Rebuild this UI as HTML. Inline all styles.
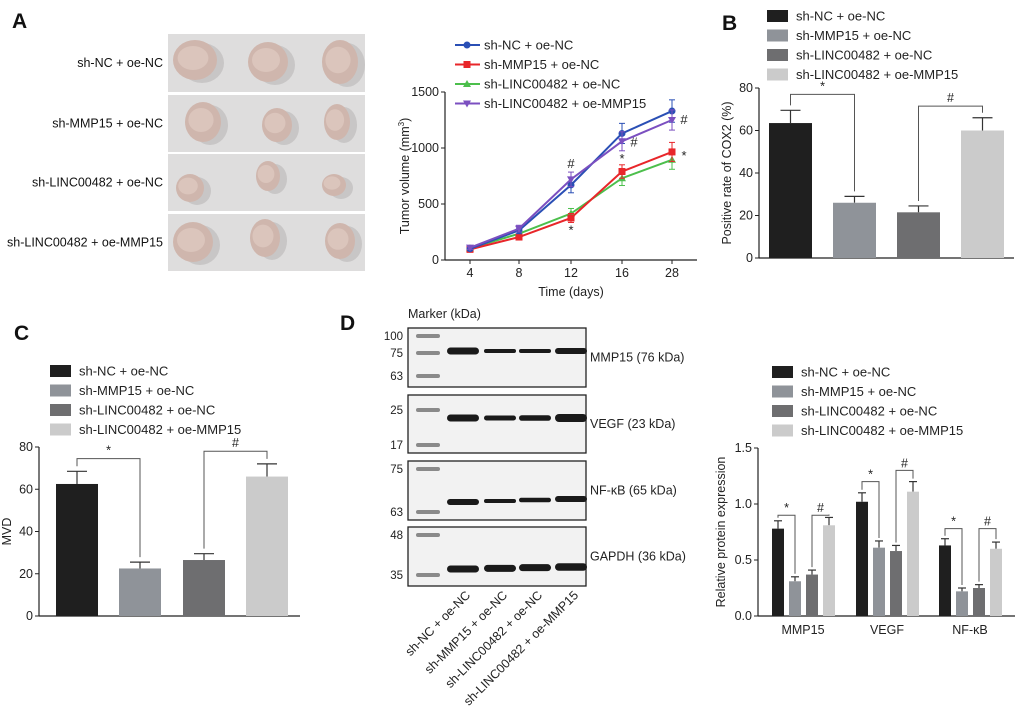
<!DOCTYPE html>
<html><head><meta charset="utf-8"><style>
body{margin:0;background:#fff}
svg{display:block;font-family:"Liberation Sans",sans-serif}
</style></head><body>
<svg id="fig" width="1020" height="714" viewBox="0 0 1020 714" xmlns="http://www.w3.org/2000/svg">
<g id="pa"></g>
<g id="pb"></g>
<g id="pc"></g>
<g id="pd"></g>
<g id="pl"></g>
<g id="pe"></g>
</svg>
<script>
const groups = ["sh-NC + oe-NC","sh-MMP15 + oe-NC","sh-LINC00482 + oe-NC","sh-LINC00482 + oe-MMP15"];
const barColors = ["#1f1f1f","#8f9399","#6e6e70","#cbcbcb"];
// Line chart data
const days = ["4","8","12","16","28"];
const volNC = [100,265,670,1130,1330];
const volMMP = [95,205,375,790,965];
const volLINC = [105,235,415,730,895];
const volLM = [110,280,720,1060,1250];
const volErr = [[15,30,70,90,100],[15,25,40,60,85],[15,25,45,65,85],[15,30,65,85,90]];
const volTicks = [0,500,1000,1500];
// Panel B
const cox2 = [63.5,26,21.5,60];
const cox2Err = [6,3,3,6];
// Panel C
const mvd = [62.5,22.5,26.5,66];
const mvdErr = [6,3,3,6];
const pctTicks = [0,20,40,60,80];
// Protein expression
const proteins = ["MMP15","VEGF","NF-κB"];
const expNC = [0.78,1.02,0.63];
const expMMP = [0.31,0.61,0.22];
const expLINC = [0.37,0.58,0.25];
const expLM = [0.81,1.11,0.60];
const expErr = [[0.07,0.08,0.06],[0.04,0.06,0.03],[0.04,0.05,0.03],[0.07,0.09,0.06]];
const expTicks = [0,0.5,1.0,1.5];

const NS="http://www.w3.org/2000/svg";
const FS=12.5;
function mk(parent,tag,attrs,text){const e=document.createElementNS(NS,tag);for(const k in attrs)e.setAttribute(k,attrs[k]);if(text!==undefined)e.textContent=text;parent.appendChild(e);return e;}
function line(p,x1,y1,x2,y2,c,w){return mk(p,'line',{x1,y1,x2,y2,stroke:c||'#222','stroke-width':w||1});}

[["A",12,28,"pa"],["B",722,30,"pb"],["C",14,340,"pc"],["D",340,330,"pd"]].forEach(l=>{
  const t=mk(document.getElementById(l[3]),'text',{x:l[1],y:l[2],'font-size':21,'font-weight':'bold',fill:'#111'},l[0]);
  
  
});

// Panel A photos
(function(){
  const g=document.getElementById('pa');
  const rows=[[34,92],[95,152],[154,211],[214,271]];
  const blobs=[[[195,60,22,20],[268,62,20,20],[340,62,18,22]],[[203,122,18,20],[277,125,15,17],[337,122,13,18]],[[190,188,14,14],[268,176,12,15],[334,185,12,11]],[[193,242,20,20],[265,238,15,19],[340,241,15,18]]];
  rows.forEach((r,i)=>{
    const bg=mk(g,'rect',{x:168,y:r[0],width:197,height:r[1]-r[0],fill:'#dedddd'});
    
    
    blobs[i].forEach(b=>{
      mk(g,'ellipse',{cx:b[0]+7,cy:b[1]+3,rx:b[2],ry:b[3],fill:'#c8c6c6'});
      mk(g,'ellipse',{cx:b[0],cy:b[1],rx:b[2],ry:b[3],fill:'#cfb6ad'});
      mk(g,'ellipse',{cx:b[0]-2,cy:b[1]-2,rx:b[2]*0.7,ry:b[3]*0.6,fill:'#dbc5bc'});
    });
    const t=mk(g,'text',{x:163,y:(r[0]+r[1])/2+4,'font-size':FS,'text-anchor':'end',fill:'#111'},groups[i]);
    
    
  });
})();

function errBar(g,x,y1,y2,c,hw){line(g,x,y1,x,y2,c,1.2);line(g,x-hw,y2,x+hw,y2,c,1.2);}

function barChart(gid,vals,errs,x0,y0,yTop,maxV,xEnd,barX,bw,ticks,ylabel,brackets,legX,legY){
  const g=document.getElementById(gid);
  const sy=v=>y0-(v/maxV)*(y0-yTop);
  line(g,x0,yTop,x0,y0+0.5,'#222',1.2);
  line(g,x0,y0,xEnd,y0,'#222',1.2);
  ticks.forEach(t=>{line(g,x0-4,sy(t),x0,sy(t));
    const tt=mk(g,'text',{x:x0-6,y:sy(t)+4,'font-size':FS,'text-anchor':'end',fill:'#222'},String(t));
    
    });
  const yl=mk(g,'text',{x:0,y:0,'font-size':FS,'text-anchor':'middle',fill:'#222',transform:`translate(${x0-28},${(y0+yTop)/2}) rotate(-90)`},ylabel);
  
  
  const tops=[];
  vals.forEach((v,i)=>{
    const bx=barX[i];
    const ey=sy(v+errs[i]);tops.push(ey);
    errBar(g,bx+bw/2,sy(v),ey,'#333',10);
    const r=mk(g,'rect',{x:bx,y:sy(v),width:bw,height:y0-sy(v),fill:barColors[i]});
    
    
  });
  brackets.forEach(b=>{
    const [a,c,v,sym]=b;const yb=sy(v);
    const xa=barX[a]+bw/2,xc=barX[c]+bw/2;
    mk(g,'polyline',{points:`${xa},${tops[a]-5} ${xa},${yb} ${xc},${yb} ${xc},${tops[c]-5}`,fill:'none',stroke:'#555','stroke-width':1});
    const s=mk(g,'text',{x:(xa+xc)/2,y:yb-4,'font-size':FS,'text-anchor':'middle',fill:'#222'},sym);
    
    
  });
  legend(g,legX,legY);
}
function legend(g,x,y){
  groups.forEach((n,i)=>{
    const r=mk(g,'rect',{x:x,y:y+i*19.5-6,width:21,height:12,fill:barColors[i]});
    
    
    const t=mk(g,'text',{x:x+29,y:y+i*19.5+4.5,'font-size':13,fill:'#222'},n);
    
    
  });
}
barChart('pb',cox2,cox2Err,759,258,88,80,1014,[769,833,897,961],43,pctTicks,'Positive rate of COX2 (%)',[[0,1,77,'*'],[2,3,71.5,'#']],767,16);
barChart('pc',mvd,mvdErr,39,616,447,80,300,[56,119,183,246],42,pctTicks,'MVD',[[0,1,74.5,'*'],[2,3,78,'#']],50,371);

// Line chart
(function(){
  const g=document.getElementById('pl');
  const x0=445,y0=260,yTop=92,maxV=1500;
  const xs=[470,519,571,622,672];
  const sx=i=>xs[i];
  const sy=v=>y0-(v/maxV)*(y0-yTop);
  line(g,x0,yTop,x0,y0+0.5,'#222',1.2);line(g,x0,y0,697,y0,'#222',1.2);
  volTicks.forEach(t=>{line(g,x0-4,sy(t),x0,sy(t));
    const tt=mk(g,'text',{x:x0-6,y:sy(t)+4,'font-size':FS,'text-anchor':'end',fill:'#222'},String(t));
    
    });
  days.forEach((d,i)=>{line(g,sx(i),y0,sx(i),y0+4);
    const tt=mk(g,'text',{x:sx(i),y:y0+17,'font-size':FS,'text-anchor':'middle',fill:'#222'},d);
    
    });
  const xt=mk(g,'text',{x:571,y:296,'font-size':FS,'text-anchor':'middle',fill:'#222'},'Time (days)');
  
  
  const yt=mk(g,'text',{x:0,y:0,'font-size':FS,'text-anchor':'middle',fill:'#222',transform:`translate(${x0-36},${(y0+yTop)/2}) rotate(-90)`});
  yt.innerHTML='Tumor volume (mm<tspan font-size="8" dy="-5">3</tspan><tspan dy="5">)</tspan>';
  
  
  const series=[volNC,volMMP,volLINC,volLM];
  const cols=['#2a4fb5','#e8262a','#4cbf4c','#7b4fc0'];
  const shapes=['c','s','t','v'];
  const order=[2,1,0,3];
  order.forEach(si=>{
    const d=series[si];
    d.forEach((v,i)=>{const e=volErr[si][i];
      line(g,sx(i),sy(v-e),sx(i),sy(v+e),cols[si],1);
      line(g,sx(i)-3,sy(v-e),sx(i)+3,sy(v-e),cols[si],1);
      line(g,sx(i)-3,sy(v+e),sx(i)+3,sy(v+e),cols[si],1);});
    const pl=mk(g,'polyline',{points:d.map((v,i)=>sx(i)+','+sy(v)).join(' '),fill:'none',stroke:cols[si],'stroke-width':2});
    
    
    d.forEach((v,i)=>marker(g,sx(i),sy(v),shapes[si],cols[si]));
  });
  [[571,sy(volLM[2]+65)-4,'#'],[571,sy(volMMP[2]-40)+12,'*'],[622,sy(volMMP[3]+60)-2,'*'],[634,sy(volLM[3])+5,'#'],[684,sy(volLM[4])+4,'#'],[684,sy(volMMP[4])+8,'*']].forEach(s=>{
    const t=mk(g,'text',{x:s[0],y:s[1],'font-size':13,'text-anchor':'middle',fill:'#222'},s[2]);
    
    });
  groups.forEach((n,i)=>{const y=45+i*19.5;
    line(g,455,y,480,y,cols[i],2);marker(g,467,y,shapes[i],cols[i]);
    const t=mk(g,'text',{x:484,y:y+4.5,'font-size':13,fill:'#222'},n);
    
    });
})();
function marker(g,x,y,s,c){
  if(s==='c')mk(g,'circle',{cx:x,cy:y,r:3.5,fill:c});
  else if(s==='s')mk(g,'rect',{x:x-3.5,y:y-3.5,width:7,height:7,fill:c});
  else if(s==='t')mk(g,'polygon',{points:`${x},${y-4} ${x-4},${y+3} ${x+4},${y+3}`,fill:c});
  else mk(g,'polygon',{points:`${x},${y+4} ${x-4},${y-3} ${x+4},${y-3}`,fill:c});
}

// Grouped bar chart
(function(){
  const g=document.getElementById('pe');
  const x0=758,y0=616,yTop=448,maxV=1.5;
  const sy=v=>y0-(v/maxV)*(y0-yTop);
  const centers=[803,887,970];
  const offs=[-25,-8,9,26];const bw=12;
  line(g,x0,yTop,x0,y0+0.5,'#222',1.2);line(g,x0,y0,1015,y0,'#222',1.2);
  expTicks.forEach(t=>{line(g,x0-4,sy(t),x0,sy(t));
    const tt=mk(g,'text',{x:x0-6,y:sy(t)+4,'font-size':FS,'text-anchor':'end',fill:'#222'},t.toFixed(1));
    
    });
  const yl=mk(g,'text',{x:0,y:0,'font-size':FS,'text-anchor':'middle',fill:'#222',transform:`translate(${x0-33},${(y0+yTop)/2}) rotate(-90)`},'Relative protein expression');
  
  
  const series=[expNC,expMMP,expLINC,expLM];
  const bracketVals=[[0.9,0.9],[1.2,1.3],[0.78,0.78]];
  proteins.forEach((p,j)=>{
    const tt=mk(g,'text',{x:centers[j],y:y0+18,'font-size':FS,'text-anchor':'middle',fill:'#222'},p);
    
    
    const tops=[];
    series.forEach((s,i)=>{
      const bx=centers[j]+offs[i]-bw/2,v=s[j],e=expErr[i][j];
      const ey=sy(v+e);tops.push(ey);
      errBar(g,bx+bw/2,sy(v),ey,'#333',4);
      const r=mk(g,'rect',{x:bx,y:sy(v),width:bw,height:y0-sy(v),fill:barColors[i]});
      
      
    });
    [[0,1,'*'],[2,3,'#']].forEach((b,k)=>{
      const yb=sy(bracketVals[j][k]);const xa=centers[j]+offs[b[0]],xc=centers[j]+offs[b[1]];
      mk(g,'polyline',{points:`${xa},${tops[b[0]]-3} ${xa},${yb} ${xc},${yb} ${xc},${tops[b[1]]-3}`,fill:'none',stroke:'#555','stroke-width':1});
      const s=mk(g,'text',{x:(xa+xc)/2,y:yb-3,'font-size':FS,'text-anchor':'middle',fill:'#222'},b[2]);
      
      
    });
  });
  legend(g,772,372);
})();

// Panel D western blot
(function(){
  const g=document.getElementById('pd');
  const m=mk(g,'text',{x:408,y:318,'font-size':FS,fill:'#222'},'Marker (kDa)');
  
  
  const rows=[[328,387,'MMP15 (76 kDa)',[['100',336],['75',353],['63',376]],[351,351,[7,4,4,6]]],
    [395,453,'VEGF (23 kDa)',[['25',410],['17',445]],[418,418,[7,5,5.5,8]]],
    [461,520,'NF-κB (65 kDa)',[['75',469],['63',512]],[502,499,[6,4,4.5,6]]],
    [527,586,'GAPDH (36 kDa)',[['48',535],['35',575]],[569,567,[7,7,7,7.5]]]];
  const lanes=[463,500,535,571];
  rows.forEach(r=>{
    const b=mk(g,'rect',{x:408,y:r[0],width:178,height:r[1]-r[0],fill:'#f2f2f2',stroke:'#222','stroke-width':1.3});
    
    
    r[3].forEach(t=>{mk(g,'text',{x:403,y:t[1]+4,'font-size':11.5,'text-anchor':'end',fill:'#222'},t[0]);
      mk(g,'rect',{x:416,y:t[1]-2,width:24,height:4,rx:2,fill:'#8a8a8a'});});
    lanes.forEach((lx,i)=>{const h=r[4][2][i];
      mk(g,'rect',{x:lx-16,y:r[4][0]+(r[4][1]-r[4][0])*i/3-h/2,width:32,height:h,rx:h/2,fill:'#1a1a1a'});});
    const t=mk(g,'text',{x:590,y:(r[0]+r[1])/2+4,'font-size':FS,fill:'#222'},r[2]);
    
    
  });
  groups.forEach((n,i)=>{
    const t=mk(g,'text',{x:0,y:0,'font-size':FS,'text-anchor':'end',fill:'#222',transform:`translate(${lanes[i]+8},${596}) rotate(-45)`},n);
    
    
  });
})();
</script>
</body></html>
